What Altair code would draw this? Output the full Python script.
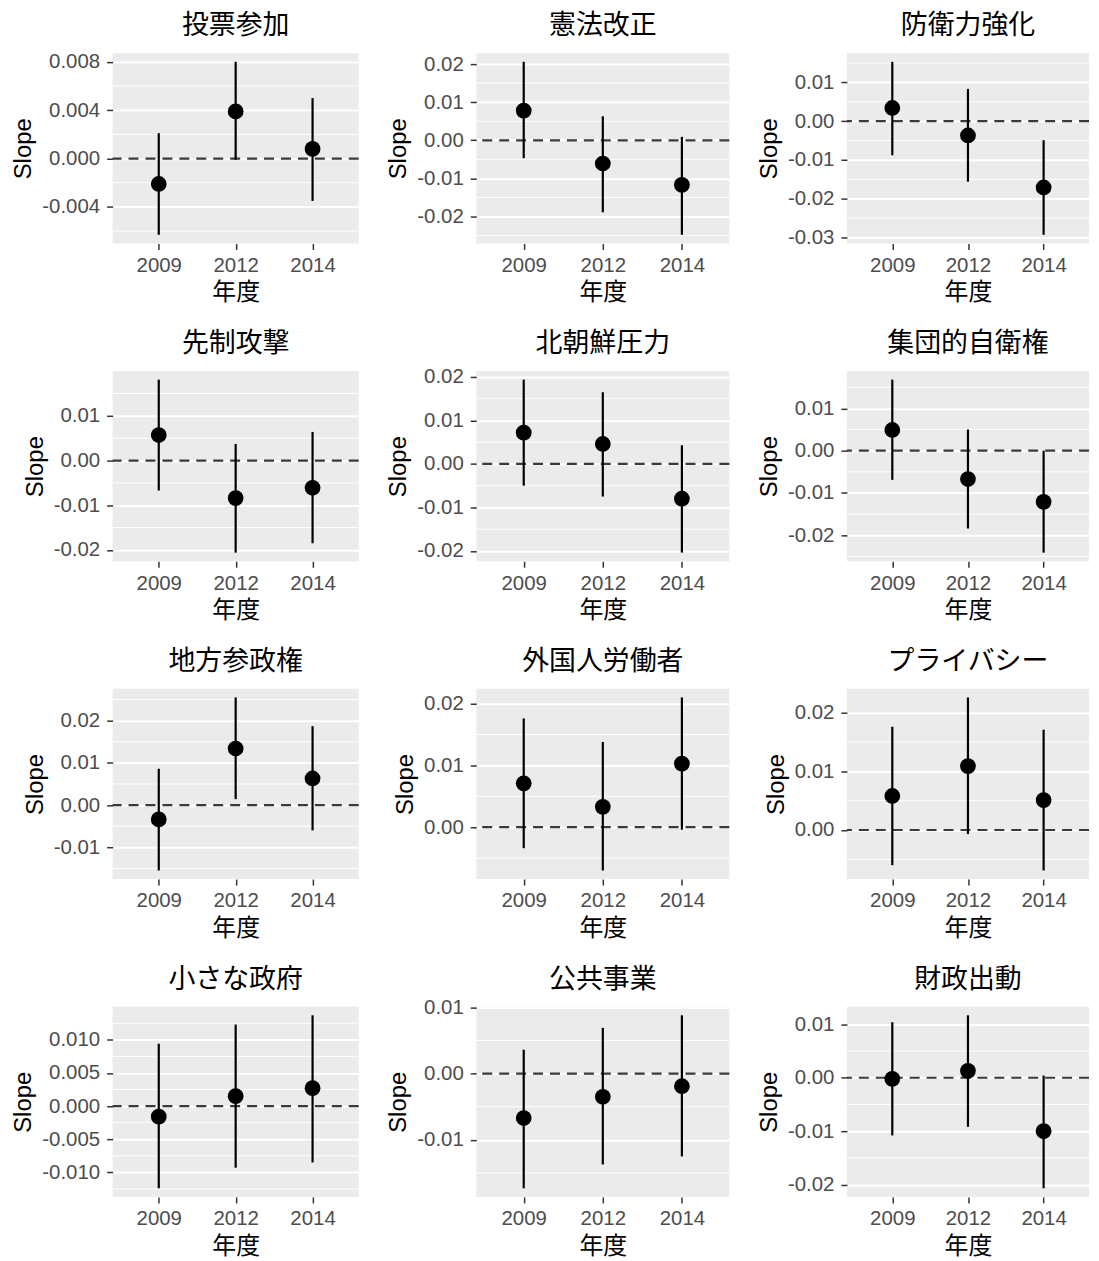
import altair as alt
import pandas as pd

topics = ["投票参加", "憲法改正", "防衛力強化",
          "先制攻撃", "北朝鮮圧力", "集団的自衛権",
          "地方参政権", "外国人労働者", "プライバシー",
          "小さな政府", "公共事業", "財政出動"]
years = ["2009", "2012", "2014"]

est = [
    [-0.0021, 0.0039, 0.0008],
    [0.0078, -0.0061, -0.0117],
    [0.0034, -0.0037, -0.0171],
    [0.0057, -0.0084, -0.0061],
    [0.0072, 0.0046, -0.0080],
    [0.0049, -0.0067, -0.0121],
    [-0.0034, 0.0134, 0.0063],
    [0.0071, 0.0033, 0.0103],
    [0.0058, 0.0109, 0.0051],
    [-0.0016, 0.0015, 0.0027],
    [-0.0067, -0.0035, -0.0019],
    [-0.0002, 0.0013, -0.0100],
]
lower = [
    [-0.0063, -0.0001, -0.0035],
    [-0.0047, -0.0189, -0.0248],
    [-0.0088, -0.0156, -0.0293],
    [-0.0067, -0.0206, -0.0185],
    [-0.0050, -0.0075, -0.0204],
    [-0.0069, -0.0184, -0.0241],
    [-0.0155, 0.0014, -0.0060],
    [-0.0034, -0.0070, -0.0004],
    [-0.0060, -0.0007, -0.0069],
    [-0.0124, -0.0093, -0.0085],
    [-0.0173, -0.0137, -0.0125],
    [-0.0108, -0.0092, -0.0207],
]
upper = [
    [0.0021, 0.0080, 0.0050],
    [0.0206, 0.0063, 0.0009],
    [0.0153, 0.0083, -0.0049],
    [0.0181, 0.0037, 0.0064],
    [0.0194, 0.0165, 0.0043],
    [0.0168, 0.0050, 0.0000],
    [0.0086, 0.0255, 0.0187],
    [0.0176, 0.0138, 0.0210],
    [0.0176, 0.0226, 0.0171],
    [0.0094, 0.0123, 0.0137],
    [0.0036, 0.0069, 0.0088],
    [0.0104, 0.0117, 0.0004],
]
tick_values = [
    [-0.004, 0.0, 0.004, 0.008],
    [-0.02, -0.01, 0.0, 0.01, 0.02],
    [-0.03, -0.02, -0.01, 0.0, 0.01],
    [-0.02, -0.01, 0.0, 0.01],
    [-0.02, -0.01, 0.0, 0.01, 0.02],
    [-0.02, -0.01, 0.0, 0.01],
    [-0.01, 0.0, 0.01, 0.02],
    [0.0, 0.01, 0.02],
    [0.0, 0.01, 0.02],
    [-0.010, -0.005, 0.0, 0.005, 0.010],
    [-0.01, 0.0, 0.01],
    [-0.02, -0.01, 0.0, 0.01],
]
label_decimals = [3, 2, 2, 2, 2, 2, 2, 2, 2, 3, 2, 2]
column_widths = [247, 254, 243]
panel_height = 191

FONT = "Liberation Sans, Noto Sans CJK JP"


def make_panel(i):
    w = column_widths[i % 3]
    df = pd.DataFrame({"year": years, "est": est[i], "lo": lower[i], "hi": upper[i]})
    lo = min(min(lower[i]), 0.0)
    hi = max(max(upper[i]), 0.0)
    pad = (hi - lo) * 0.05
    dom = [lo - pad, hi + pad]
    t = tick_values[i]
    step = t[1] - t[0]
    cands = [t[0] - step / 2] + [v + step / 2 for v in t]
    minors = [v for v in cands if dom[0] <= v <= dom[1]]
    fmt = f".{label_decimals[i]}f"
    yscale = alt.Scale(domain=dom, nice=False, zero=False)
    yaxis = alt.Axis(values=t, title="Slope", labelPadding=7,
                     labelExpr=f"replace(format(datum.value, '{fmt}'), '\u2212', '-')")
    xenc = alt.X("year:O", title="年度",
                 scale=alt.Scale(type="point", padding=0.6),
                 axis=alt.Axis(labelAngle=0, labelPadding=6, titlePadding=5))

    minor = alt.Chart(pd.DataFrame({"v": minors})).mark_rule(
        color="white", strokeWidth=1
    ).encode(y=alt.Y("v:Q", scale=yscale, axis=yaxis))
    zero = alt.Chart(pd.DataFrame({"z": [0.0]})).mark_rule(
        color="#3a3a3a", strokeDash=[10, 7], strokeWidth=2.2
    ).encode(y=alt.Y("z:Q", scale=yscale, axis=yaxis))
    bars = alt.Chart(df).mark_rule(color="black", strokeWidth=2.2).encode(
        x=xenc, y=alt.Y("lo:Q", scale=yscale, axis=yaxis), y2="hi:Q"
    )
    pts = alt.Chart(df).mark_circle(color="black", size=250, opacity=1).encode(
        x=xenc, y=alt.Y("est:Q", scale=yscale, axis=yaxis)
    )
    title = alt.Chart(pd.DataFrame({"t": [topics[i]]})).mark_text(
        fontSize=27, font=FONT, color="black", align="center",
        baseline="alphabetic"
    ).encode(text="t:N", x=alt.value(w / 2), y=alt.value(-19))
    return alt.layer(minor, zero, bars, pts, title).properties(
        width=w, height=panel_height
    )


panels = [make_panel(i) for i in range(len(topics))]

chart = alt.concat(
    *panels, columns=3, spacing=alt.RowColnumber(row=25, column=26)
).properties(
    padding={"left": 3, "top": 2, "right": 0, "bottom": 0}
).configure_view(
    fill="#EBEBEB", stroke=None
).configure_axis(
    domain=False, tickColor="#333333", tickSize=6, tickWidth=1.5,
    labelColor="#4D4D4D", labelFontSize=20.5, labelFont=FONT,
    titleFontSize=24, titleFont=FONT, titleFontWeight="normal",
    titleColor="black", gridColor="white", gridWidth=2,
    titlePadding=6,
)

chart.save("out.html", embed_options={"renderer": "svg", "actions": False})
